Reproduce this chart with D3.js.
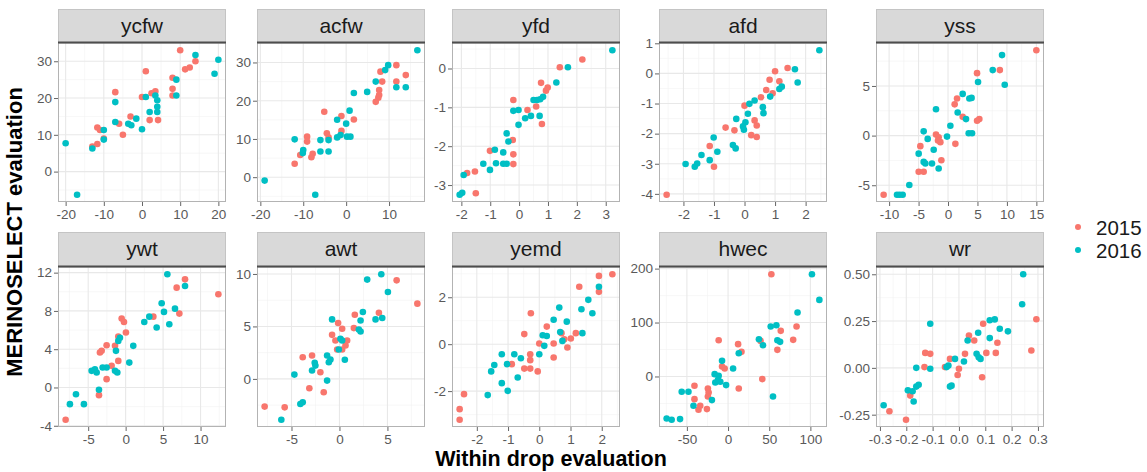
<!DOCTYPE html>
<html><head><meta charset="utf-8">
<script src="https://cdn.jsdelivr.net/npm/d3@7"></script>
<style>body{margin:0;background:#fff}svg{display:block;font-family:"Liberation Sans",Arial,sans-serif}</style>
</head><body><svg id="c" width="1147" height="472"></svg>
<script>
// ---------- data ----------
const years = ["2015", "2016"];
const yearColors = ["#F8766D", "#00BFC4"];

const ycfw2015 = [[10,33],[1,27.3],[11.3,27.8],[12.5,28.3],[14,30],[8,25.5],[8,22.5],[8,20.7],[-7,21.6],[0,20.3],[2.5,21.3],[3.5,21.8],[2,14],[4.2,14],[-3,15],[-5,10],[-6,13],[-11.7,12],[-11,11.3],[-11.7,7.5],[-13,6.8],[-10,9]];
const ycfw2016 = [[20,30.4],[19,26.6],[14,31.7],[9,25],[9,20.7],[3.5,20.7],[4,19.4],[4,17.6],[4,16.2],[1,20.3],[2,16.2],[-1.5,14.4],[0,11.5],[-7,18.9],[-7,13.5],[-3.6,13],[-2.8,12.6],[-10,11.3],[-10,8.7],[-13,6.3],[-20,7.7],[-17,-6.3]];
const acfw2015 = [[11.7,29.3],[13.9,26.7],[11.7,25],[8,27.6],[8.4,25],[7.7,22.8],[7.7,21.5],[7.5,20.8],[6.9,19.7],[-5.1,17.1],[-1.1,16],[1.8,15.1],[-4.5,11.5],[-4.1,10.4],[-9.1,10.6],[-9.1,9.3],[-7.8,6.1],[-8.1,5.2],[-10.7,5.8],[-12,3.5],[-1.1,12.1]];
const acfw2016 = [[16.6,33.2],[9.8,29.3],[9.1,28],[6.9,25],[4.9,22.3],[1.8,22],[11.7,23.5],[13.9,23.5],[0.8,17.4],[-2.1,15],[0,14],[-1.3,11],[0.2,10.6],[1,10.6],[-2.1,10.4],[-4.1,9.7],[-6,9.7],[-4.1,6.7],[-6,6.7],[-10,7.1],[-10.1,6.3],[-12,9.9],[-19,-0.9],[-7.2,-4.6]];
const yfd2015 = [[2.19,0.23],[1.41,0.03],[0.99,-0.49],[0.93,-0.57],[0.76,-0.37],[0.59,-0.98],[0.29,-1.07],[0.79,-1.43],[-0.2,-0.81],[-0.22,-1.84],[-0.2,-2.21],[-0.2,-2.46],[-1.01,-2.12],[-1.53,-2.65],[-1.8,-2.69],[-1.5,-3.21]];
const yfd2016 = [[3.23,0.47],[1.69,0.03],[1.29,-0.36],[0.83,-0.73],[0.73,-0.79],[0.62,-0.81],[0.5,-0.81],[0.41,-1.22],[0.71,-1.22],[0.21,-1.28],[-0.02,-1.45],[-0.02,-1.07],[-0.2,-1.09],[-0.43,-1.67],[-0.37,-1.88],[-0.55,-2.16],[-0.55,-2.45],[-0.43,-2.45],[-0.84,-2.09],[-0.8,-2.44],[-1.01,-2.61],[-1.24,-2.45],[-1.92,-2.74],[-1.97,-3.2],[-2.06,-3.25]];
const afd2015 = [[1.41,0.18],[1.0,0.07],[1.14,-0.26],[0.82,-0.21],[0.71,-0.55],[0.54,-0.79],[0.92,-0.66],[0,-1.07],[0.33,-1.56],[0.4,-1.73],[0.22,-2.05],[0.4,-2.11],[-0.33,-1.89],[-0.62,-1.8],[-1.14,-2.41],[-1.0,-3.1],[-2.55,-4.03]];
const afd2016 = [[2.45,0.77],[1.65,0.14],[1.74,-0.3],[1.22,-0.44],[1.14,-0.52],[0.84,-0.77],[0.33,-0.9],[0.16,-1.01],[0.6,-1.12],[0.62,-1.32],[0.11,-1.34],[-0.27,-1.51],[0.03,-1.62],[-0.05,-1.76],[-0.02,-1.87],[-0.38,-2.38],[-0.29,-2.49],[-1.01,-2.13],[-0.89,-2.6],[-1.14,-2.88],[-1.41,-2.71],[-1.55,-2.99],[-1.63,-3.1],[-1.93,-3.01]];
const yss2015 = [[15,8.6],[8.8,6.6],[4.93,6.29],[1.53,3.74],[1.13,3.15],[2.49,1.89],[5.32,1.66],[4.93,1.49],[1.25,-0.83],[-2.04,0.1],[-1.59,-0.17],[-1.7,-0.5],[-1.3,-0.66],[-4.7,-1.06],[-1.13,-2.48],[-4.98,-3.64],[-4.13,-3.64],[-10.93,-5.96]];
const yss2016 = [[9.17,8.11],[9.63,5.13],[7.59,6.6],[5.1,5.4],[2.49,4.2],[3.62,3.74],[4.0,3.8],[1.64,2.32],[3.06,1.66],[-2.04,2.65],[0.4,0.99],[-0.17,-0.1],[3.51,0.23],[4.08,0.23],[-4.13,0.43],[-3.45,-0.33],[-2.43,-1.42],[-4.98,-1.82],[-4.13,-2.65],[-3.85,-2.81],[-2.72,-2.81],[-1.59,-3.31],[-6.57,-4.97],[-7.7,-5.96],[-8.66,-5.96],[-8.2,-5.96]];
const ywt2015 = [[7.93,11.3],[6.81,10.43],[12.38,9.74],[7.17,7.72],[3.7,7.4],[-0.53,7.2],[-0.22,6.85],[0.04,5.74],[-0.98,5.32],[-1.42,4.35],[-2.54,4.42],[-3.43,3.65],[-3.2,3.83],[-0.98,2.78],[-1.87,2.26],[-2.54,0.87],[-3.56,-0.8],[-8.01,-3.37]];
const ywt2016 = [[5.57,11.83],[7.93,10.6],[4.81,8.8],[5.12,7.9],[6.59,8.24],[5.83,6.6],[4.14,6.26],[2.49,6.85],[3.16,7.4],[1.02,4.35],[0.49,2.6],[-0.76,5.2],[-0.98,4.87],[-1.29,3.83],[-1.11,1.57],[-1.42,1.74],[-2.54,2.09],[-3.07,2.09],[-4.1,1.91],[-4.54,1.74],[-3.87,1.57],[-3.56,-0.24],[-6.63,-0.7],[-7.44,-1.74],[-5.57,-1.74]];
const awt2015 = [[5.96,9.39],[8.12,7.17],[4.11,6.31],[1.6,6.11],[1.5,4.84],[-0.14,5.32],[0.28,4.78],[-0.77,4.2],[-0.42,3.66],[0.8,3.66],[0.63,3.18],[-0.24,2.8],[0.28,2.8],[-2.86,2.23],[-3.83,2.07],[-1.99,0.64],[-3.14,-0.89],[-1.64,-1.27],[-5.71,-2.71],[-7.8,-2.64]];
const awt2016 = [[4.36,9.97],[2.89,9.46],[5.05,8.28],[2.44,6.37],[2.2,5.57],[2.02,4.71],[2.2,4.52],[3.76,5.67],[4.46,5.8],[-0.77,5.67],[0.1,3.82],[0.28,3.66],[-0.07,2.8],[0.56,1.82],[-1.29,2.23],[-1.11,1.59],[-0.94,1.85],[-2.58,1.53],[-2.86,0.8],[-2.51,1.27],[-1.29,-0.16],[-4.7,0.41],[-3.83,-2.23],[-4.08,-2.39],[-6.06,-3.89]];
const yemd2015 = [[2.34,2.98],[1.91,2.91],[1.91,2.23],[1.28,2.45],[-0.27,1.32],[-0.48,0.43],[0.24,0.75],[0,0.03],[0.46,0.03],[0.71,0.47],[0.8,0.21],[1.01,0.24],[1.17,0.47],[0.9,-0.14],[0.46,-0.57],[-0.29,-0.43],[-0.29,-0.68],[-0.29,-1.04],[-0.48,-1.04],[-0.05,-1.16],[-0.88,-0.85],[-2.41,-2.13],[-2.55,-2.77],[-2.55,-3.22]];
const yemd2016 = [[1.91,2.45],[1.57,1.89],[1.35,1.49],[1.7,1.32],[0.64,1.56],[0.46,1.04],[0.88,0.96],[0.11,0.38],[0.24,0.35],[0.67,0.52],[1.38,0.47],[0.74,0.14],[0.16,-0.07],[0,-0.43],[-0.59,-0.6],[-0.8,-0.43],[-1.03,-0.85],[-1.2,-0.43],[-1.44,-0.89],[-1.54,-1.16],[-0.69,-1.42],[-1.2,-1.66],[-1.01,-1.99],[-1.65,-2.17]];
const hwec2015 = [[52.6,189.5],[64,84.6],[83.2,92.6],[79.1,67.9],[59.9,49.4],[-11.4,67.3],[12.2,59.9],[16.3,45.7],[-7.3,18.5],[-4.1,14.8],[41.6,-4.9],[13,-22.2],[-40.8,-17.3],[-40.8,-42],[-24.5,-22.2],[-23.6,-29.6],[-24.5,-37],[-33.8,-54.3],[-25.7,-60.5],[-35.9,-61.7],[39.5,66]];
const hwec2016 = [[101.9,189.5],[110.9,142],[84.4,118.5],[58.7,95],[51.8,92.6],[59.9,67.3],[63.2,64.2],[37.5,69.1],[42.4,58],[13,43.2],[6.1,14.8],[-7.3,29],[-16.3,4.3],[-11.4,1.2],[-15.5,-11.1],[-9.4,-9.9],[-2.4,-16],[-12.2,-6.2],[-19.6,-43.8],[54.6,-37],[-48.1,-28.4],[-56.3,-28.4],[-42,-54.3],[-58.3,-79],[-74.6,-77.8],[-68.5,-80.2]];
const wr2015 = [[-0.264,-0.232],[-0.201,-0.277],[-0.185,-0.148],[-0.128,0.08],[-0.109,0.075],[-0.131,0.004],[-0.053,0.004],[-0.034,0.048],[0,-0.005],[-0.005,-0.038],[0.023,0.075],[0.038,0.173],[0.058,0.146],[0.092,0.236],[0.088,-0.05],[0.104,0.08],[0.14,0.08],[0.146,0.134],[0.294,0.26],[0.275,0.093]];
const wr2016 = [[-0.286,-0.2],[-0.194,-0.12],[-0.176,-0.125],[-0.162,-0.1],[-0.153,-0.09],[-0.172,-0.18],[-0.162,0],[-0.109,0.236],[-0.109,-0.005],[-0.04,0.013],[-0.047,0.004],[-0.028,-0.095],[-0.034,-0.1],[-0.015,0.048],[0.019,0.034],[0.033,0.146],[0.073,0.188],[0.067,0.075],[0.075,0.057],[0.082,0.048],[0.117,0.159],[0.117,0.254],[0.136,0.259],[0.155,0.209],[0.186,0.195],[0.244,0.5],[0.24,0.34]];

// tick values per panel
const ycfwXTicks = [-20,-10,0,10,20], ycfwYTicks = [0,10,20,30];
const acfwXTicks = [-20,-10,0,10],   acfwYTicks = [0,10,20,30];
const yfdXTicks  = [-2,-1,0,1,2,3],  yfdYTicks  = [-3,-2,-1,0];
const afdXTicks  = [-2,-1,0,1,2],    afdYTicks  = [-4,-3,-2,-1,0,1];
const yssXTicks  = [-10,-5,0,5,10,15], yssYTicks = [-5,0,5];
const ywtXTicks  = [-5,0,5,10],      ywtYTicks  = [-4,0,4,8,12];
const awtXTicks  = [-5,0,5],         awtYTicks  = [0,5,10];
const yemdXTicks = [-2,-1,0,1,2],    yemdYTicks = [-2,0,2];
const hwecXTicks = [-50,0,50,100],   hwecYTicks = [0,100,200];
const wrXTicks   = [-0.3,-0.2,-0.1,0,0.1,0.2,0.3], wrYTicks = [-0.25,0,0.25,0.5];

const panelNames = ["ycfw","acfw","yfd","afd","yss","ywt","awt","yemd","hwec","wr"];
const panelData = [[ycfw2015,ycfw2016],[acfw2015,acfw2016],[yfd2015,yfd2016],[afd2015,afd2016],[yss2015,yss2016],
                   [ywt2015,ywt2016],[awt2015,awt2016],[yemd2015,yemd2016],[hwec2015,hwec2016],[wr2015,wr2016]];
const panelXTicks = [ycfwXTicks,acfwXTicks,yfdXTicks,afdXTicks,yssXTicks,ywtXTicks,awtXTicks,yemdXTicks,hwecXTicks,wrXTicks];
const panelYTicks = [ycfwYTicks,acfwYTicks,yfdYTicks,afdYTicks,yssYTicks,ywtYTicks,awtYTicks,yemdYTicks,hwecYTicks,wrYTicks];
const xDecimals = [0,0,0,0,0,0,0,0,0,1];
const yDecimals = [0,0,0,0,0,0,0,0,0,2];

const xTitle = "Within drop evaluation";
const yTitle = "MERINOSELECT evaluation";

// ---------- layout ----------
const colLeft = [58, 257, 452, 659, 876];
const panelW = 168;
const stripTop = [9, 232];
const plotTop = [43, 267];
const plotBottom = [202, 427];

const svg = d3.select("#c");
const fmt = d => (dec => v => { let s = v.toFixed(dec); if (parseFloat(s) === 0) s = (0).toFixed(dec); return s; })(d);

function expand(ext) { const r = ext[1] - ext[0]; return [ext[0] - 0.05 * r, ext[1] + 0.05 * r]; }
function minors(ticks, dom) {
  const out = [];
  const step = ticks[1] - ticks[0];
  const ext = [ticks[0] - step / 2].concat(ticks.slice(0, -1).map((t, i) => (t + ticks[i + 1]) / 2), [ticks[ticks.length - 1] + step / 2]);
  ext.forEach(v => { if (v >= dom[0] && v <= dom[1]) out.push(v); });
  return out;
}

panelNames.forEach((name, i) => {
  const row = Math.floor(i / 5), col = i % 5;
  const x0 = colLeft[col], x1 = x0 + panelW;
  const y0 = plotTop[row], y1 = plotBottom[row];
  const all = panelData[i][0].concat(panelData[i][1]);
  const xDom = expand(d3.extent(all, d => d[0]));
  const yDom = expand(d3.extent(all, d => d[1]));
  const xs = d3.scaleLinear().domain(xDom).range([x0, x1]);
  const ys = d3.scaleLinear().domain(yDom).range([y1, y0]);
  const g = svg.append("g");

  g.append("rect").attr("x", x0).attr("y", y0).attr("width", panelW).attr("height", y1 - y0).attr("fill", "#fff");
  // minor grid
  g.selectAll(null).data(minors(panelXTicks[i], xDom)).join("line")
    .attr("x1", d => xs(d)).attr("x2", d => xs(d)).attr("y1", y0).attr("y2", y1)
    .attr("stroke", "#f2f2f2").attr("stroke-width", 0.6);
  g.selectAll(null).data(minors(panelYTicks[i], yDom)).join("line")
    .attr("y1", d => ys(d)).attr("y2", d => ys(d)).attr("x1", x0).attr("x2", x1)
    .attr("stroke", "#f2f2f2").attr("stroke-width", 0.6);
  // major grid
  g.selectAll(null).data(panelXTicks[i]).join("line")
    .attr("x1", d => xs(d)).attr("x2", d => xs(d)).attr("y1", y0).attr("y2", y1)
    .attr("stroke", "#e8e8e8").attr("stroke-width", 1.1);
  g.selectAll(null).data(panelYTicks[i]).join("line")
    .attr("y1", d => ys(d)).attr("y2", d => ys(d)).attr("x1", x0).attr("x2", x1)
    .attr("stroke", "#e8e8e8").attr("stroke-width", 1.1);

  // points
  panelData[i].forEach((pts, k) => {
    g.selectAll(null).data(pts).join("circle")
      .attr("cx", d => xs(d[0])).attr("cy", d => ys(d[1])).attr("r", 3.3)
      .attr("fill", yearColors[k]);
  });

  // border
  g.append("rect").attr("x", x0 + 0.5).attr("y", y0).attr("width", panelW - 1).attr("height", y1 - y0 - 0.5)
    .attr("fill", "none").attr("stroke", "#b3b3b3").attr("stroke-width", 1);

  // strip
  const sTop = stripTop[row];
  g.append("rect").attr("x", x0 + 0.5).attr("y", sTop + 0.5).attr("width", panelW - 1).attr("height", y0 - sTop - 1)
    .attr("fill", "#d9d9d9").attr("stroke", "#c4c4c4");
  g.append("line").attr("x1", x0).attr("x2", x1).attr("y1", y0 - 0.5).attr("y2", y0 - 0.5)
    .attr("stroke", "#4d4d4d").attr("stroke-width", 2);
  g.append("text").attr("x", (x0 + x1) / 2).attr("y", (sTop + y0) / 2 - 1).attr("text-anchor", "middle")
    .attr("dominant-baseline", "central").attr("font-size", 21).attr("fill", "#1a1a1a").text(name);

  // axes
  const ax = g.append("g").attr("transform", `translate(0,${y1})`)
    .call(d3.axisBottom(xs).tickValues(panelXTicks[i]).tickSize(4).tickPadding(3).tickFormat(fmt(xDecimals[i])));
  const ay = g.append("g").attr("transform", `translate(${x0},0)`)
    .call(d3.axisLeft(ys).tickValues(panelYTicks[i]).tickSize(4).tickPadding(2).tickFormat(fmt(yDecimals[i])));
  [ax, ay].forEach(a => {
    a.select(".domain").remove();
    a.selectAll(".tick line").attr("stroke", "#666").attr("stroke-width", 1);
    a.selectAll(".tick text").attr("fill", "#595959").attr("font-size", 13.5)
      .attr("font-family", "'Liberation Sans',Arial,sans-serif");
  });
});

// axis titles
svg.append("text").attr("x", 551).attr("y", 466).attr("text-anchor", "middle")
  .attr("font-size", 21.5).attr("font-weight", "bold").attr("fill", "#000").text(xTitle);
svg.append("text").attr("transform", "translate(14,232) rotate(-90)").attr("text-anchor", "middle")
  .attr("dominant-baseline", "central").attr("font-size", 22).attr("font-weight", "bold").attr("fill", "#000").text(yTitle);

// legend
const lg = svg.append("g");
years.forEach((yr, k) => {
  const cy = 227 + k * 23;
  lg.append("circle").attr("cx", 1078).attr("cy", cy).attr("r", 3).attr("fill", yearColors[k]);
  lg.append("text").attr("x", 1096).attr("y", cy).attr("dominant-baseline", "central")
    .attr("font-size", 20.5).attr("fill", "#1a1a1a").text(yr);
});
</script></body></html>
